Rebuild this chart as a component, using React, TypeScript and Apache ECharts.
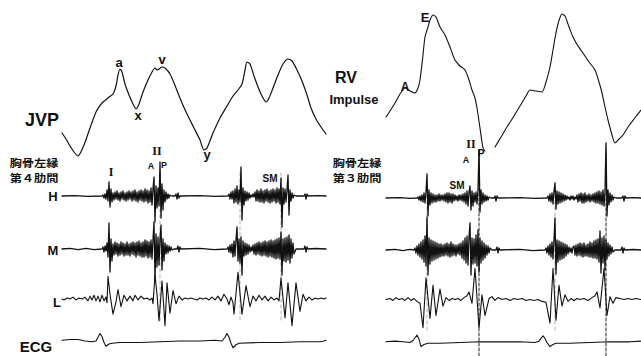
import React, { useEffect, useRef } from "react";
import * as echarts from "echarts";

type Pt = [number, number];

// ---------- time ranges of the two recordings (sample index) ----------
const LEFT_T: [number, number] = [62, 326];
const RIGHT_T: [number, number] = [386, 641];

// ---------- JVP (left) ----------
const jvpTime = [62, 66, 70, 74, 78, 84, 90, 96, 102, 108, 113, 116, 118, 120, 122, 125, 129, 133, 136, 139, 143, 148, 152, 155, 157, 159, 162, 165, 170, 176, 182, 188, 194, 200, 204, 207, 213, 220, 227, 233, 238, 242, 245, 247, 250, 254, 258, 262, 266, 269, 273, 278, 283, 288, 292, 297, 302, 307, 311, 316, 321, 326];
const jvpValue = [27, 21, 14, 8, 4, 15, 32, 48, 57, 62, 66, 74, 85, 91, 88, 76, 65, 56, 51, 56, 68, 80, 88, 92, 90, 91, 93, 92, 86, 72, 57, 44, 32, 20, 10, 12, 27, 42, 54, 64, 70, 76, 90, 98, 96, 84, 73, 64, 58, 62, 72, 85, 96, 101, 99, 90, 79, 65, 52, 41, 33, 26];

// ---------- RV impulse (right) ----------
const rvTime1 = [386, 390, 395, 400, 405, 410, 415, 418, 420, 423, 425, 428, 430, 433, 436, 440, 445, 450, 455, 460, 465, 469, 472, 475, 477, 480, 483, 485];
const rvValue1 = [38, 44, 52, 61, 67, 64, 62, 67, 75, 100, 118, 128, 135, 140, 138, 128, 120, 108, 95, 89, 85, 75, 65, 57, 47, 27, 7, 4];
const rvTime2 = [495, 501, 507, 514, 520, 526, 530, 536, 542, 546, 550, 553, 555, 558, 562, 565, 569, 573, 578, 583, 589, 595, 599, 602, 605, 608, 612, 615, 619, 623, 628, 634, 641];
const rvValue2 = [8, 18, 28, 39, 49, 59, 65, 64, 63, 73, 88, 105, 117, 131, 141, 139, 128, 118, 109, 102, 93, 85, 73, 62, 48, 35, 20, 12, 16, 20, 28, 36, 45];

// ---------- phonocardiogram, left (4th intercostal space) ----------
const leftHLead = [62, 0, 75, 0.4, 88, -0.4, 102, 0];
const leftHBurst1 = [1, -2, 2, -3, 6, -5, 14, -11, 7, -6, 3, -4, 4, -3, 5, -4, 3, -5, 4, -3, 5, -4, 3, -5, 4, -4, 5, -3, 4, -5, 5, -4, 6, -5, 4, -6, 5, -4, 6, -5, 5, -6, 7, -5, 6, -7, 5, -6, 8, -9, 7, 19, -26, 10, -12, 8, -10, 34, -22, 12, -14, 6, -6, 4, -3, 2, -2, 1];
const leftHMid = [172, 0, 175, 0, 176, 2, 177, -3, 178, 3, 179, -2, 180, 0, 200, 0.4, 215, -0.4, 228, 0];
const leftHBurst2 = [2, -3, 4, -3, 5, -7, 7, -6, 10, -8, 6, -6, 29, -24, 8, -9, 5, -5, 4, -4, 3, -2, 1, -1, 2, -1, 4, -5, 6, -5, 5, -6, 7, -6, 5, -7, 6, -5, 7, -6, 5, -7, 6, -6, 7, -5, 6, -7, 8, -6, 7, -8, 18, -31, 8, -8, 7, -6, 6, 21, -19, 6, -5, 3, -2, 1];
const leftHTail = [296, 0, 304, 0, 305, 2, 306, -3, 307, 2, 308, 0, 318, 0.3, 326, 0];

const leftMLead = [62, 0, 70, 0.6, 78, -0.6, 86, 0.6, 94, -0.6, 102, 0];
const leftMBurst1 = [2, -3, 3, -2, 6, -8, 26, -23, 10, -12, 5, -6, 7, -5, 6, -7, 5, -6, 7, -5, 6, -7, 5, -6, 7, -6, 5, -7, 6, -5, 7, -6, 6, -8, 7, -6, 8, -7, 6, -8, 7, -8, 9, -7, 8, -9, 7, -8, 9, -10, 9, 27, -31, 15, -18, 12, -16, 10, 24, -21, 10, -12, 6, -5, 4, -4, 3, -2, 2, -1];
const leftMMid = [174, 0, 177, 0, 178, 3, 179, -3, 180, 2, 181, 0, 200, 0.6, 214, -0.6, 227, 0];
const leftMBurst2 = [2, -3, 4, -4, 5, -8, 8, -7, 9, 22, -12, 10, -14, 12, -26, 8, -7, 6, -6, 5, -5, 4, -3, 2, -2, 4, -5, 5, -6, 6, -5, 7, -6, 6, -7, 7, -6, 8, -7, 7, -8, 8, -7, 9, -8, 8, -9, 9, -10, 10, -9, 11, -10, 17, -26, 10, -12, 11, -13, 12, -11, 14, -14, 10, -9, 6, -5];
const leftMTail = [296, 0, 304, 0, 305, 3, 306, -3, 307, 2, 308, 0, 316, 0.5, 326, 0];

const leftL = [62, 0, 64, -1, 67, 1, 70, 0, 73, 2, 76, -1, 79, 1, 82, 0, 85, 2, 88, -2, 90, 3, 92, -1, 94, 4, 96, -2, 98, 3, 100, -3, 102, 4, 104, -2, 106, 2, 107, -4, 108, 24, 110, 5, 113, -16, 116, -3, 118, 10, 121, -8, 124, 4, 127, -2, 130, 3, 133, -2, 135, 4, 138, -1, 141, 3, 144, 0, 147, 1, 150, -1, 152, 1, 153, -5, 155, 25, 157, 5, 159, -23, 162, 19, 165, -28, 167, 17, 170, -15, 173, 9, 176, -5, 179, 3, 182, -1, 185, 1, 188, 0, 191, 1, 194, 0, 197, -1, 200, 1, 203, 0, 206, 1, 209, -1, 212, 2, 215, -1, 218, 3, 221, -2, 224, 5, 227, 0, 229, -6, 231, 2, 233, -4, 234, -16, 238, 28, 242, -16, 246, 14, 250, -8, 253, 3, 256, -2, 259, 4, 262, -1, 265, 3, 268, -2, 271, 2, 274, -1, 277, 1, 279, -2, 281, 22, 285, -20, 288, 17, 292, -28, 296, 17, 300, -13, 303, 5, 306, -2, 309, 2, 312, -1, 315, 1, 318, 0, 321, 1, 324, 0, 326, 1];
const leftECG = [62, 1, 70, 2, 78, 2, 85, 0, 92, -1, 96, 0, 98, 5, 100, 10, 102, 6, 104, -2, 106, -7, 109, -4, 112, -3, 120, -2, 140, -2, 160, -1, 180, 0, 200, 0, 215, 1, 222, 0, 225, 5, 227, 10, 229, 5, 231, -3, 233, -9, 236, -5, 239, -3, 260, -2, 280, -2, 300, -1, 320, -1, 324, 0, 326, 1];

// ---------- phonocardiogram, right (3rd intercostal space) ----------
const rightHLead = [386, 0, 400, 0.3, 410, -0.3, 417, 0];
const rightHBurst1 = [1, -2, 2, -3, 3, -4, 5, -5, 6, 24, -18, 8, -7, 5, -5, 4, -4, 3, -4, 3, -3, 4, -3, 3, -2, 3, -3, 4, -4, 5, -5, 5, -4, 4, -5, 4, -3, 3, -2, 2, -3, 3, -2, 3, -3, 4, -4, 5, -6, 7, -8, 6, 12, -12, 7, -8, 5, -4, 6, -6, 8, 48, -14, 8, -6, 5, -4, 3, -3, 2, -2, 1];
const rightHMid = [491, 0, 494, 0, 495, 2, 496, -3, 497, 2, 498, 0, 520, 0.3, 535, -0.3, 547, 0];
const rightHBurst2 = [2, -3, 4, -4, 5, -6, 7, 15, -11, 7, -6, 6, -5, 5, -4, 4, -3, 3, -2, 2, -1, 1, -2, 2, -1, 2, -2, 1, -1, 3, -4, 4, -3, 5, -5, 4, -5, 5, -4, 3, -3, 4, -4, 3, -3, 4, -4, 5, -5, 6, -5, 7, -6, 6, -7, 8, -8, 6, 55, -18, 8, -7, 5, -4, 3, -2, 1];
const rightHTail = [616, 0, 622, 0, 623, 2, 624, -3, 625, 2, 626, 0, 634, 0.3, 641, 0];

const rightMLead = [386, 0, 395, 0.6, 403, -0.6, 410, 0.6, 414, 0];
const rightMBurst1 = [2, -3, 4, -5, 6, -7, 8, -9, 10, -12, 14, -16, 33, -25, 12, -14, 10, -11, 9, -10, 8, -9, 7, -8, 6, -7, 6, -6, 5, -6, 6, -5, 7, -6, 6, -7, 8, -6, 6, -5, 5, -6, 5, -4, 6, -5, 7, -8, 9, -10, 12, -13, 14, -15, 13, 27, -25, 12, -14, 11, -13, 15, -16, 20, -22, 12, -13, 9, -10, 7, -8, 5, -5, 4, -3, 2];
const rightMMid = [492, 0, 496, 0, 497, 3, 498, -3, 499, 2, 500, 0, 520, 0.6, 533, -0.6, 545, 0];
const rightMBurst2 = [2, -3, 4, -5, 6, -7, 8, -9, 10, 32, -24, 10, -12, 9, -10, 8, -9, 7, -8, 6, -6, 5, -4, 3, -2, 2, -3, 3, 4, -5, 5, -6, 6, -5, 7, -6, 6, -7, 7, -6, 5, -6, 6, -7, 8, -7, 7, -8, 9, -8, 10, -9, 11, -12, 19, -23, 12, -13, 14, -20, 10, -9, 7, -6, 5, -4, 3, -2];
const rightMTail = [615, 0, 621, 0, 622, 3, 623, -3, 624, 2, 625, 0, 633, 0.5, 641, 0];

const rightL = [386, 0, 390, 1, 393, -1, 396, 2, 399, 0, 402, 1, 405, -1, 408, 2, 411, -1, 414, 1, 417, -2, 420, -4, 423, -30, 426, 23, 430, -20, 433, 15, 436, -17, 440, 11, 443, -7, 446, 2, 449, -1, 452, 1, 455, 0, 458, 1, 461, -1, 464, 2, 467, 4, 469, 8, 472, -4, 475, 33, 479, -30, 482, 5, 485, -17, 489, 1, 492, 3, 495, -1, 498, 2, 502, 0, 506, 1, 510, -1, 514, 1, 518, 0, 522, 1, 526, -1, 530, 0, 534, -1, 538, 0, 542, -2, 546, -3, 550, -25, 553, 33, 556, -22, 559, 15, 562, -7, 565, 5, 568, -2, 571, 1, 574, -1, 577, 1, 580, 0, 584, 1, 588, -1, 592, 2, 595, 4, 597, 8, 600, -9, 604, 33, 607, -17, 610, 3, 613, -4, 616, 2, 620, 1, 624, 0, 628, 1, 632, 0, 636, 1, 641, 0];
const rightECG = [386, 1, 395, 2, 403, 1, 410, 0, 413, 3, 415, 7, 417, 11, 419, 5, 421, -6, 424, -3, 428, -1, 440, -1, 460, 0, 480, 1, 500, 1, 520, 1, 535, 0, 539, 2, 541, 6, 543, 10, 545, 6, 547, 0, 550, -6, 553, -3, 556, -1, 570, -1, 590, 0, 610, 1, 630, 1, 641, 2];

// ---------- timing markers (sample index) ----------
const leftGuideMarks = [160, 240, 281];
const rightGuideMarks = [427, 555];
const rightDashMarks = [479, 606];

// ---------- helpers ----------
const zip = (t: number[], v: number[]): Pt[] => t.map((x, i) => [x, v[i]]);
const pairs = (flat: number[]): Pt[] => {
  const out: Pt[] = [];
  for (let i = 0; i < flat.length; i += 2) out.push([flat[i], flat[i + 1]]);
  return out;
};
const seg = (start: number, amps: number[]): Pt[] => amps.map((a, i) => [start + i, a]);

const INK = "#111111";
const SANS = '"Liberation Sans", Arial, Helvetica, sans-serif';
const SERIF = '"Liberation Serif", "DejaVu Serif", serif';
const CJK = '"Noto Sans CJK JP", "Noto Sans CJK SC", sans-serif';

function buildOption() {
  const grid: any[] = [];
  const xAxis: any[] = [];
  const yAxis: any[] = [];
  const series: any[] = [];

  const addGrid = (left: number, width: number, top: number, height: number, t: [number, number], y: [number, number]) => {
    const idx = grid.length;
    grid.push({ left, top, width, height, containLabel: false, show: false });
    xAxis.push({ type: "value", gridIndex: idx, min: t[0], max: t[1], show: false });
    yAxis.push({ type: "value", gridIndex: idx, min: y[0], max: y[1], show: false });
    return idx;
  };

  const addLine = (idx: number, data: Pt[], width: number, opts: any = {}) => {
    series.push({
      type: "line",
      xAxisIndex: idx,
      yAxisIndex: idx,
      data,
      symbol: "none",
      silent: true,
      clip: false,
      smooth: opts.smooth ?? false,
      lineStyle: { color: opts.color ?? INK, width, type: opts.type ?? "solid", cap: "round", join: "round" },
      z: opts.z ?? 2,
    });
  };

  const LP = { left: 62, width: 264 };
  const RP = { left: 386, width: 255 };

  const trace = (p: { left: number; width: number }, t: [number, number], baseline: number, range: number, data: Pt[], width: number) => {
    const g = addGrid(p.left, p.width, baseline - range, range * 2, t, [-range, range]);
    addLine(g, data, width);
  };

  // JVP
  const gJ = addGrid(LP.left, LP.width, 55, 105, LEFT_T, [0, 105]);
  addLine(gJ, zip(jvpTime, jvpValue), 1.2, { smooth: 0.25 });
  // RV impulse
  const gR = addGrid(RP.left, RP.width, 10, 145, RIGHT_T, [0, 145]);
  addLine(gR, zip(rvTime1, rvValue1), 1.1, { smooth: 0.25 });
  addLine(gR, zip(rvTime2, rvValue2), 1.1, { smooth: 0.25 });

  // left phonocardiogram
  trace(LP, LEFT_T, 196, 60, [...pairs(leftHLead), ...seg(103, leftHBurst1), ...pairs(leftHMid), ...seg(229, leftHBurst2), ...pairs(leftHTail)], 1.3);
  trace(LP, LEFT_T, 249, 60, [...pairs(leftMLead), ...seg(103, leftMBurst1), ...pairs(leftMMid), ...seg(228, leftMBurst2), ...pairs(leftMTail)], 1.3);
  trace(LP, LEFT_T, 302, 60, pairs(leftL), 1.1);
  trace(LP, LEFT_T, 346, 20, pairs(leftECG), 1.1);

  // right phonocardiogram
  trace(RP, RIGHT_T, 198, 60, [...pairs(rightHLead), ...seg(418, rightHBurst1), ...pairs(rightHMid), ...seg(548, rightHBurst2), ...pairs(rightHTail)], 1.3);
  trace(RP, RIGHT_T, 250, 60, [...pairs(rightMLead), ...seg(415, rightMBurst1), ...pairs(rightMMid), ...seg(546, rightMBurst2), ...pairs(rightMTail)], 1.3);
  trace(RP, RIGHT_T, 303, 60, pairs(rightL), 1.1);
  trace(RP, RIGHT_T, 349, 20, pairs(rightECG), 1.1);

  // timing markers
  const gLM = addGrid(LP.left, LP.width, 170, 150, LEFT_T, [0, 1]);
  leftGuideMarks.forEach((t) => addLine(gLM, [[t, 0], [t, 1]], 0.7, { color: "#8a8a8a", type: [3, 3], z: 1 }));
  const gRM = addGrid(RP.left, RP.width, 180, 150, RIGHT_T, [0, 1]);
  rightGuideMarks.forEach((t) => addLine(gRM, [[t, 0], [t, 1]], 0.7, { color: "#8a8a8a", type: [3, 3], z: 1 }));
  const gRD = addGrid(RP.left, RP.width, 150, 206, RIGHT_T, [0, 1]);
  rightDashMarks.forEach((t) => addLine(gRD, [[t, 0], [t, 1]], 1, { color: "#222", type: [3, 2], z: 1 }));

  const txt = (text: string, x: number, y: number, size: number, family = SANS, scaleX = 1) => ({
    type: "text",
    silent: true,
    z: 10,
    x,
    y,
    scaleX,
    style: {
      text,
      x: 0,
      y: 0,
      fill: INK,
      fontSize: size,
      fontWeight: "bold",
      fontFamily: family,
      textAlign: "center",
      textVerticalAlign: "middle",
      align: "center",
      verticalAlign: "middle",
    },
  });

  const graphic = [
    // left panel
    txt("JVP", 42, 120, 18),
    txt("a", 119, 62, 13),
    txt("x", 138, 115, 13),
    txt("v", 162, 59, 13),
    txt("y", 207, 154, 13),
    txt("胸骨左縁", 34, 162.5, 10, CJK, 1.22),
    txt("第４肋間", 34, 177.5, 10, CJK, 1.22),
    txt("I", 111, 172, 12, SERIF),
    txt("II", 157, 151, 12, SERIF),
    txt("A", 151, 166, 9),
    txt("P", 164, 165, 9),
    txt("SM", 270, 178, 10),
    txt("H", 53, 196, 13),
    txt("M", 53, 250, 13),
    txt("L", 57, 302, 13),
    txt("ECG", 36, 346, 15),
    // right panel
    txt("RV", 346, 77, 16),
    txt("Impulse", 354, 99, 13),
    txt("A", 405, 87, 12),
    txt("E", 425, 17, 13),
    txt("胸骨左縁", 357, 162.5, 10, CJK, 1.22),
    txt("第３肋間", 357, 177.5, 10, CJK, 1.22),
    txt("II", 471, 144, 12, SERIF),
    txt("A", 466, 160, 9),
    txt("P", 481, 153, 10),
    txt("SM", 457, 185, 10),
  ];

  return {
    animation: false,
    backgroundColor: "#ffffff",
    grid,
    xAxis,
    yAxis,
    series,
    graphic,
  };
}

export default function App() {
  const ref = useRef<HTMLDivElement>(null);
  useEffect(() => {
    if (!ref.current) return;
    const chart = echarts.init(ref.current, null, { renderer: "svg" });
    chart.setOption(buildOption());
    return () => chart.dispose();
  }, []);
  return (
    <div
      ref={ref}
      style={{ position: "absolute", left: 0, top: 0, width: 641, height: 356, background: "#fff" }}
    />
  );
}
